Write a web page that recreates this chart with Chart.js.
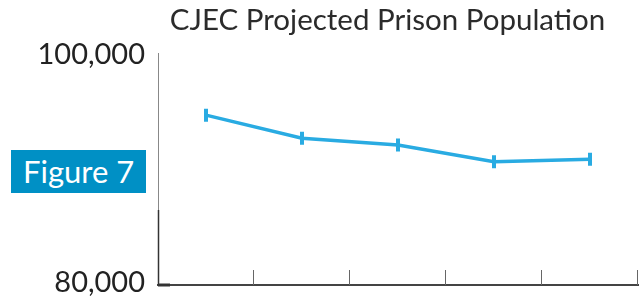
<!DOCTYPE html>
<html>
<head>
<meta charset="utf-8">
<script src="https://cdn.jsdelivr.net/npm/chart.js@4"></script>
<style>
  html, body { margin: 0; padding: 0; background: #fff; }
  #wrap { position: relative; width: 644px; height: 298px; }
  #title {
    position: absolute; left: 0; top: 1px; width: 775px;
    text-align: center; font: 29.5px Lato, sans-serif; color: #2b2b2b;
    white-space: nowrap;
  }
  #fig {
    position: absolute; left: 11px; top: 150px; width: 135px; height: 43px;
    background: #0090c5; color: #fff; font: 31px Lato, sans-serif;
    line-height: 43px; box-sizing: border-box; padding-left: 12px;
  }
</style>
</head>
<body>
<div id="wrap">
  <canvas id="chart" width="644" height="298"></canvas>
  <div id="title">CJEC Projected Prison Population</div>
  <div id="fig">Figure 7</div>
</div>
<script>
// data
const categories = ['Year 1', 'Year 2', 'Year 3', 'Year 4', 'Year 5'];
const population = [94900, 92870, 92280, 90820, 91030];
const yTicks = [80000, 100000];

const lineColor = '#29abe2';

// small inner tick marks on the x axis, at category boundaries
const tickMarks = {
    id: 'tickMarks',
    afterDraw(chart) {
        const x = chart.scales.x;
        const area = chart.chartArea;
        const ctx = chart.ctx;
        ctx.save();
        ctx.strokeStyle = '#666';
        ctx.lineWidth = 1;
        for (let i = 1; i <= categories.length; i++) {
            const px = Math.round(x.getPixelForValue(i - 0.5)) - 0.5;
            ctx.beginPath();
            ctx.moveTo(px, area.bottom - 15);
            ctx.lineTo(px, area.bottom);
            ctx.stroke();
        }
        // darker bits of the axes near the corner
        ctx.strokeStyle = '#333';
        ctx.lineWidth = 1.5;
        ctx.beginPath();
        ctx.moveTo(area.left + 0.5, area.bottom - 75);
        ctx.lineTo(area.left + 0.5, area.bottom);
        ctx.stroke();
        ctx.lineWidth = 3;
        ctx.beginPath();
        ctx.moveTo(area.left, area.bottom);
        ctx.lineTo(area.left + 12, area.bottom);
        ctx.stroke();
        ctx.restore();
    }
};

new Chart(document.getElementById('chart').getContext('2d'), {
    type: 'line',
    data: {
        labels: categories,
        datasets: [{
            data: population,
            borderColor: lineColor,
            backgroundColor: lineColor,
            borderWidth: 3.5,
            tension: 0,
            fill: false,
            pointStyle: 'line',
            pointRotation: 90,
            pointRadius: 6.5,
            pointBorderWidth: 4,
            pointHoverRadius: 6.5
        }]
    },
    options: {
        responsive: false,
        animation: false,
        layout: { autoPadding: false, padding: { top: 53, right: 6, bottom: 13, left: 0 } },
        plugins: {
            legend: { display: false },
            title: { display: false },
            tooltip: { enabled: false }
        },
        scales: {
            x: {
                type: 'category',
                offset: true,
                grid: { display: false },
                ticks: { display: false },
                border: { display: true, color: '#444', width: 2 },
                afterFit(scale) {
                    scale.height = 0;
                    scale.paddingLeft = 0;
                    scale.paddingRight = 0;
                }
            },
            y: {
                min: 80000,
                max: 100350,
                grid: { display: false, drawTicks: false },
                border: { display: true, color: '#888', width: 1 },
                ticks: {
                    padding: 13,
                    labelOffset: -2,
                    color: '#222',
                    font: { family: 'Lato', size: 29 },
                    callback: v => v.toLocaleString('en-US')
                },
                afterBuildTicks(scale) {
                    scale.ticks = yTicks.map(v => ({ value: v }));
                },
                afterFit(scale) {
                    scale.width = 158;
                    scale.paddingTop = 0;
                    scale.paddingBottom = 0;
                }
            }
        }
    },
    plugins: [tickMarks]
});
</script>
</body>
</html>
